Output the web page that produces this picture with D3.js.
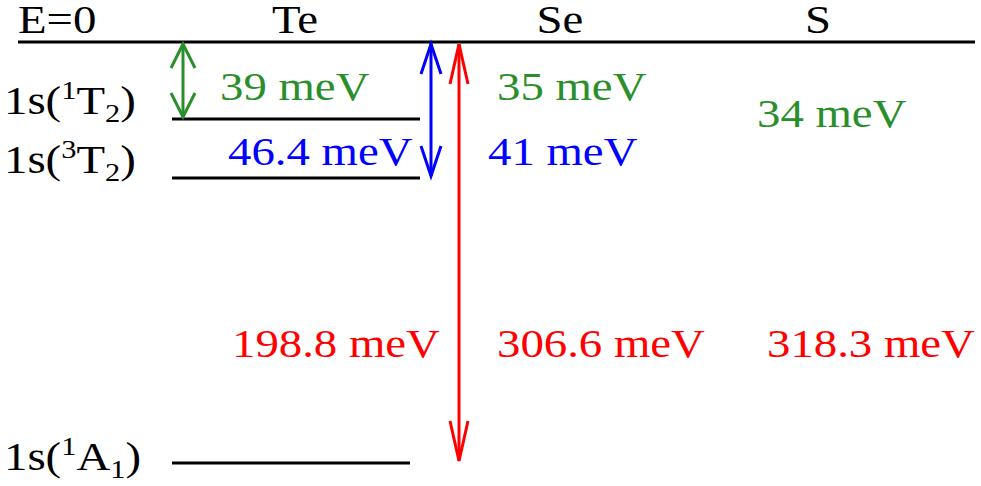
<!DOCTYPE html>
<html><head><meta charset="utf-8">
<script src="https://cdn.jsdelivr.net/npm/d3@7"></script>
<style>body{margin:0;background:#fff}text{font-family:"Liberation Serif",serif}</style>
</head><body><div id="chart"></div>
<script>
// energies below E=0 for Te levels (meV)
const levelNames = ["1T2", "3T2", "1A1"];
const levelEnergy = [39, 46.4, 198.8];
const columns = ["Te", "Se", "S"];
const green = ["39 meV", "35 meV", "34 meV"];
const blue = ["46.4 meV", "41 meV", ""];
const red = ["198.8 meV", "306.6 meV", "318.3 meV"];

const svg = d3.select("#chart").append("svg").attr("width", 981).attr("height", 486);
// non-linear energy axis (diagram is not to scale)
const y = d3.scaleLinear().domain([0, 39, 46.4, 198.8]).range([42, 119, 178, 463]);
const x = d3.scaleOrdinal().domain(columns).range([295, 560, 818]);
const fs = 40, sx = 1.17;

// text with horizontal stretch like the original
function label(px, py, s, color, anchor) {
    return svg.append("text").attr("transform", `translate(${px},${py}) scale(${sx},1)`)
        .attr("font-size", fs).attr("fill", color || "black")
        .attr("text-anchor", anchor || "start").text(s);
}

svg.append("line").attr("x1", 18).attr("x2", 975).attr("y1", y(0)).attr("y2", y(0))
    .attr("stroke", "black").attr("stroke-width", 3);
label(18, 33, "E=0");
columns.forEach(d => label(x(d), 33, d, "black", "middle"));

// levels
const ends = [420, 420, 410];
levelEnergy.forEach((e, i) => {
    svg.append("line").attr("x1", 172).attr("x2", ends[i]).attr("y1", y(e)).attr("y2", y(e))
        .attr("stroke", "black").attr("stroke-width", 3);
    const t = label(4, y(e) + (i == 2 ? 7 : -5), "");
    t.append("tspan").text("1s(");
    t.append("tspan").attr("font-size", 26).attr("dy", -15).text(levelNames[i][0]);
    t.append("tspan").attr("dy", 15).text(levelNames[i][1]);
    t.append("tspan").attr("font-size", 26).attr("dy", 8).text(levelNames[i][2]);
    t.append("tspan").attr("dy", -8).text(")");
});

function arrow(xp, e, color, hw, hl) {
    const y0 = y(0) + 2, y1 = y(e) - 2;
    svg.append("line").attr("x1", xp).attr("x2", xp).attr("y1", y0).attr("y2", y1)
        .attr("stroke", color).attr("stroke-width", 3);
    svg.append("path").attr("d", `M${xp - hw},${y0 + hl}L${xp},${y0}L${xp + hw},${y0 + hl}`)
        .attr("fill", "none").attr("stroke", color).attr("stroke-width", 3);
    svg.append("path").attr("d", `M${xp - hw},${y1 - hl}L${xp},${y1}L${xp + hw},${y1 - hl}`)
        .attr("fill", "none").attr("stroke", color).attr("stroke-width", 3);
}
arrow(183, levelEnergy[0], "#2a8f2a", 12, 24);
arrow(431, levelEnergy[1], "#0000ff", 10, 30);
arrow(459, levelEnergy[2], "#ff0000", 9, 40);

const gx = [220, 497, 757], gy = [100, 100, 127];
green.forEach((d, i) => label(gx[i], gy[i], d, "#2a8f2a"));
const bx = [228, 488];
blue.forEach((d, i) => label(bx[i], 165, d, "#0000ff"));
const rx = [232, 497, 767];
red.forEach((d, i) => label(rx[i], 357, d, "#ff0000"));
</script></body></html>
